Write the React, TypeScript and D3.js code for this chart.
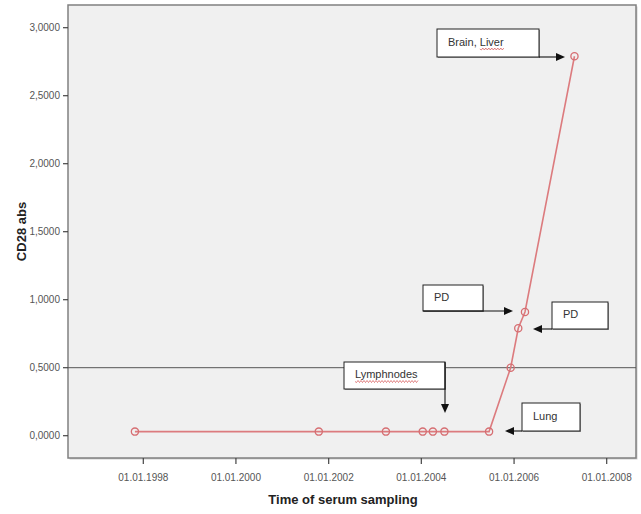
import React, { useEffect, useRef } from 'react';
import * as d3 from 'd3';

// sampling dates and CD28 values
const sampleDates = [
  '1997-10-27', '2001-10-15', '2003-03-28', '2004-01-12', '2004-04-01', '2004-07-01',
  '2005-06-18', '2005-12-05', '2006-02-03', '2006-03-28', '2007-04-22',
];
const cd28Values = [0.03, 0.03, 0.03, 0.03, 0.03, 0.03, 0.03, 0.5, 0.79, 0.91, 2.79];
const yTicks = [0, 0.5, 1, 1.5, 2, 2.5, 3];
const xTickYears = [1998, 2000, 2002, 2004, 2006, 2008];
const cutoff = 0.5;

const annotationLabels = ['Brain, Liver', 'PD', 'PD', 'Lymphnodes', 'Lung'];
const annotationSquiggle = ['Liver', null, null, 'Lymphnodes', null];

const App = () => {
  const svgRef = useRef<SVGSVGElement>(null);

  useEffect(() => {
    const svg = d3.select(svgRef.current);
    svg.selectAll('*').remove();

    const W = 641, H = 514;
    const frame = { left: 68, top: 5, right: 636, bottom: 458 };
    const font = '"Liberation Sans", Arial, sans-serif';

    const x = d3.scaleTime()
      .domain([new Date(1998, 0, 1), new Date(2008, 0, 1)])
      .range([143.3, 606.7]);
    const y = d3.scaleLinear()
      .domain([0, 3])
      .range([435.7, 27.7]);

    svg.attr('width', W).attr('height', H);

    // plot background + frame
    svg.append('rect')
      .attr('x', frame.left + 1.5).attr('y', frame.top + 1.5)
      .attr('width', frame.right - frame.left).attr('height', frame.bottom - frame.top)
      .attr('fill', '#cfcfcf');
    svg.append('rect')
      .attr('x', frame.left).attr('y', frame.top)
      .attr('width', frame.right - frame.left).attr('height', frame.bottom - frame.top)
      .attr('fill', '#f0f0f0')
      .attr('stroke', '#808080')
      .attr('stroke-width', 1.5);

    // y axis
    const yAxis = svg.append('g');
    yTicks.forEach(t => {
      yAxis.append('line')
        .attr('x1', frame.left - 5).attr('x2', frame.left)
        .attr('y1', y(t)).attr('y2', y(t))
        .attr('stroke', '#444').attr('stroke-width', 1.2);
      yAxis.append('text')
        .attr('x', frame.left - 8).attr('y', y(t))
        .attr('dy', '0.35em')
        .attr('text-anchor', 'end')
        .style('font-family', font).style('font-size', '10px').attr('fill', '#555')
        .text(d3.format('.4f')(t).replace('.', ','));
    });

    // x axis
    const fmt = d3.timeFormat('%d.%m.%Y');
    const xAxis = svg.append('g');
    xTickYears.forEach(yr => {
      const d = new Date(yr, 0, 1);
      xAxis.append('line')
        .attr('x1', x(d)).attr('x2', x(d))
        .attr('y1', frame.bottom).attr('y2', frame.bottom + 6)
        .attr('stroke', '#444').attr('stroke-width', 1.2);
      xAxis.append('text')
        .attr('x', x(d)).attr('y', 477)
        .attr('dy', '0.35em')
        .attr('text-anchor', 'middle')
        .style('font-family', font).style('font-size', '10px').attr('fill', '#555')
        .text(fmt(d));
    });

    // axis titles
    svg.append('text')
      .attr('transform', `translate(21,${(frame.top + frame.bottom) / 2}) rotate(-90)`)
      .attr('text-anchor', 'middle')
      .attr('dy', '0.35em')
      .style('font-family', font).style('font-size', '13px').style('font-weight', 'bold')
      .attr('fill', '#222')
      .text('CD28 abs');
    svg.append('text')
      .attr('x', 343).attr('y', 499)
      .attr('dy', '0.35em')
      .attr('text-anchor', 'middle')
      .style('font-family', font).style('font-size', '13px').style('font-weight', 'bold')
      .attr('fill', '#222')
      .text('Time of serum sampling');

    // reference line
    svg.append('line')
      .attr('x1', frame.left).attr('x2', frame.right)
      .attr('y1', y(cutoff)).attr('y2', y(cutoff))
      .attr('stroke', '#555').attr('stroke-width', 1);

    // series
    const pts = sampleDates.map((s, i) => ({ date: d3.timeParse('%Y-%m-%d')(s) as Date, value: cd28Values[i] }));
    const line = d3.line<{ date: Date; value: number }>()
      .x(d => x(d.date))
      .y(d => y(d.value));
    svg.append('path')
      .datum(pts)
      .attr('fill', 'none')
      .attr('stroke', '#dc7b7e')
      .attr('stroke-width', 1.6)
      .attr('d', line);
    svg.append('g').selectAll('circle')
      .data(pts)
      .join('circle')
      .attr('cx', d => x(d.date))
      .attr('cy', d => y(d.value))
      .attr('r', 3.6)
      .attr('fill', 'none')
      .attr('stroke', '#d66e72')
      .attr('stroke-width', 1.3);

    // annotation boxes (pixel layout) and arrows
    const boxes = [
      { x: 437, y: 29, w: 102, h: 28, arrow: [[539, 57], [565, 57]] },
      { x: 423, y: 285, w: 60, h: 26, arrow: [[423, 311], [513, 311]] },
      { x: 552, y: 302, w: 56, h: 27, arrow: [[552, 329], [533, 329]] },
      { x: 344, y: 362, w: 101, h: 27, arrow: [[445, 362], [445, 413]] },
      { x: 522, y: 403, w: 58, h: 28, arrow: [[522, 431], [505, 431]] },
    ];

    const ann = svg.append('g');
    boxes.forEach((b, i) => {
      ann.append('rect')
        .attr('x', b.x + 1).attr('y', b.y + 1).attr('width', b.w).attr('height', b.h)
        .attr('fill', '#9a9a9a');
      ann.append('rect')
        .attr('x', b.x).attr('y', b.y).attr('width', b.w).attr('height', b.h)
        .attr('fill', '#ffffff').attr('stroke', '#222').attr('stroke-width', 1);
      const label = annotationLabels[i];
      const txt = ann.append('text')
        .attr('x', b.x + 11).attr('y', b.y + b.h / 2 - 1)
        .attr('dy', '0.35em')
        .style('font-family', font).style('font-size', '11px').attr('fill', '#333')
        .text(label);

      const sq = annotationSquiggle[i];
      if (sq) {
        const node = txt.node() as SVGTextElement;
        const start = label.indexOf(sq);
        let off = 0, len = 0;
        try {
          off = start > 0 ? node.getSubStringLength(0, start) : 0;
          len = node.getSubStringLength(start, sq.length);
        } catch (e) {
          len = sq.length * 6;
        }
        const x0 = b.x + 11 + off, yb = b.y + b.h / 2 + 6;
        let dPath = `M${x0},${yb}`;
        for (let k = 0, xx = x0; xx < x0 + len; k++, xx += 1.5) {
          dPath += `L${xx + 1.5},${yb + (k % 2 === 0 ? 1 : -1)}`;
        }
        ann.append('path').attr('d', dPath)
          .attr('fill', 'none').attr('stroke', '#d04040').attr('stroke-width', 0.8).attr('opacity', 0.8);
      }

      const [[ax0, ay0], [ax1, ay1]] = b.arrow;
      const ang = Math.atan2(ay1 - ay0, ax1 - ax0);
      const hl = 9, hw = 4;
      const bx = ax1 - hl * Math.cos(ang), by = ay1 - hl * Math.sin(ang);
      ann.append('line')
        .attr('x1', ax0).attr('y1', ay0).attr('x2', bx).attr('y2', by)
        .attr('stroke', '#111').attr('stroke-width', 1.1);
      ann.append('path')
        .attr('d', `M${ax1},${ay1}L${bx - hw * Math.sin(ang)},${by + hw * Math.cos(ang)}L${bx + hw * Math.sin(ang)},${by - hw * Math.cos(ang)}Z`)
        .attr('fill', '#111');
    });
  }, []);

  return (
    <svg ref={svgRef} style={{ position: 'absolute', left: 0, top: 0, background: '#fff' }}></svg>
  );
};

export default App;
